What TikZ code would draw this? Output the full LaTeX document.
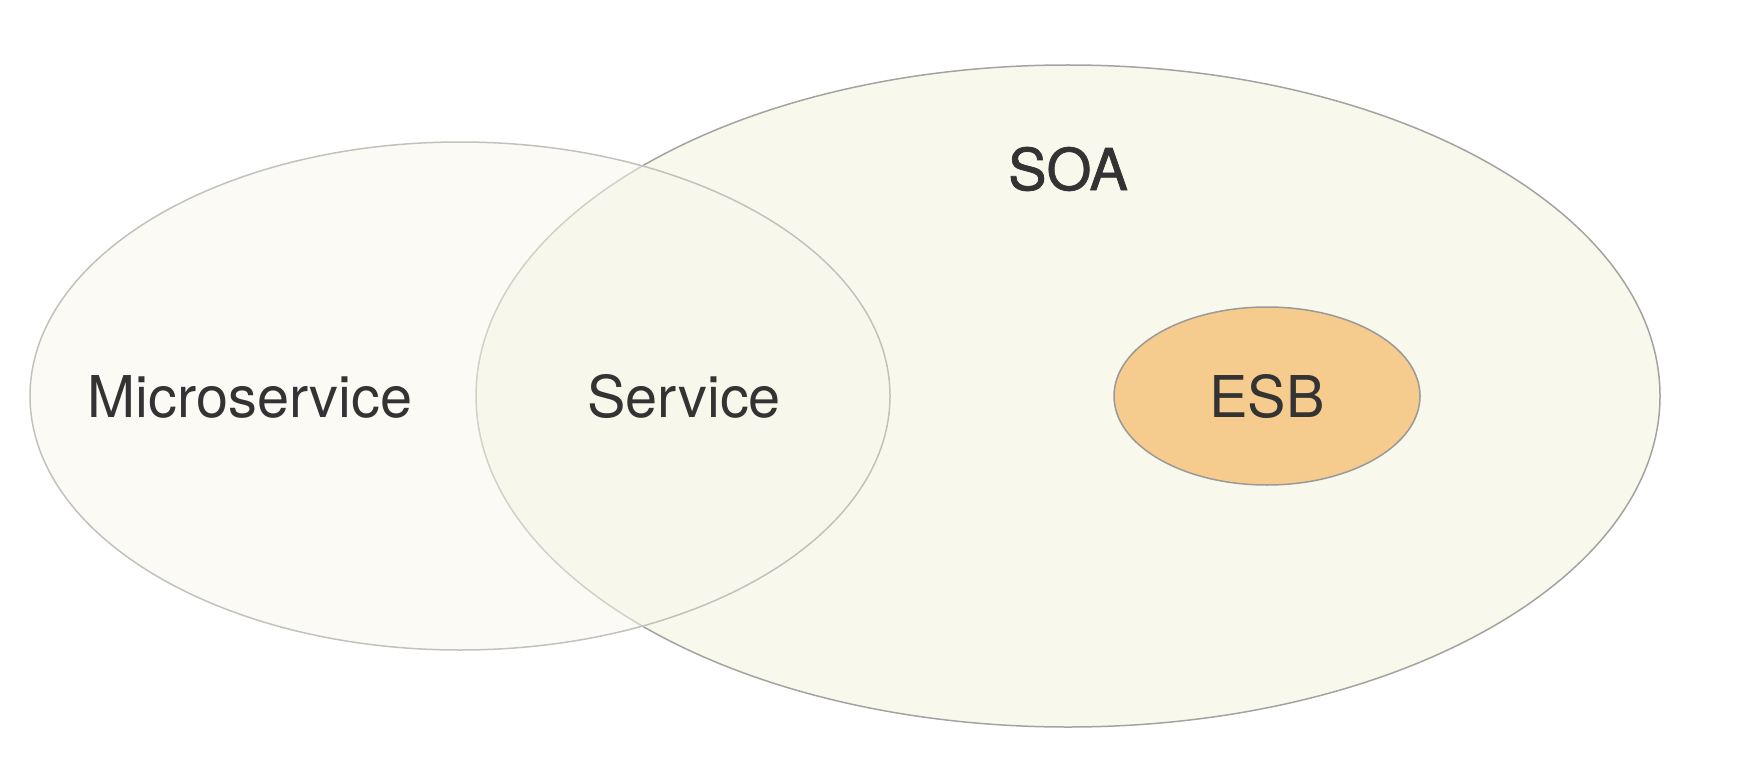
\documentclass[tikz,border=0pt]{standalone}
\usepackage{fontspec}
\setmainfont{TeX Gyre Heros}
\newfontfamily\soafont[FakeBold=1.2]{TeX Gyre Heros}
\definecolor{soafill}{HTML}{F9F8EC}
\definecolor{soaline}{HTML}{A3A3A0}
\definecolor{mfill}{HTML}{F8F7EB}
\definecolor{mline}{HTML}{C2C2BD}
\definecolor{esbfill}{HTML}{F6CB8E}
\definecolor{esbline}{HTML}{9A9A98}
\definecolor{txt}{HTML}{333333}
\begin{document}
\begin{tikzpicture}[x=1pt,y=-1pt,
  lbl/.style={text=txt,font=\fontsize{57.6}{60}\selectfont,inner sep=0pt,anchor=base}]
\useasboundingbox (0,0) rectangle (1752,770);
\fill[white] (0,0) rectangle (1752,770);
\draw[fill=soafill,draw=soaline,line width=1.5pt] (1068,396) ellipse [x radius=592,y radius=331];
\draw[fill=esbfill,draw=esbline,line width=1.5pt] (1267,396) ellipse [x radius=153,y radius=89];
\fill[mfill,fill opacity=0.55] (460,396) ellipse [x radius=430,y radius=254];
\draw[mline,line width=1.5pt] (460,396) ellipse [x radius=430,y radius=254];
\node[lbl,font=\soafont\fontsize{57.6}{60}\selectfont] (soa) at (1068,190) {SOA};
\node[lbl] (micro) at (250,417) {Microservice};
\node[lbl] (service) at (684,417) {Service};
\node[lbl] (esb) at (1267,417) {ESB};
\end{tikzpicture}
\end{document}
